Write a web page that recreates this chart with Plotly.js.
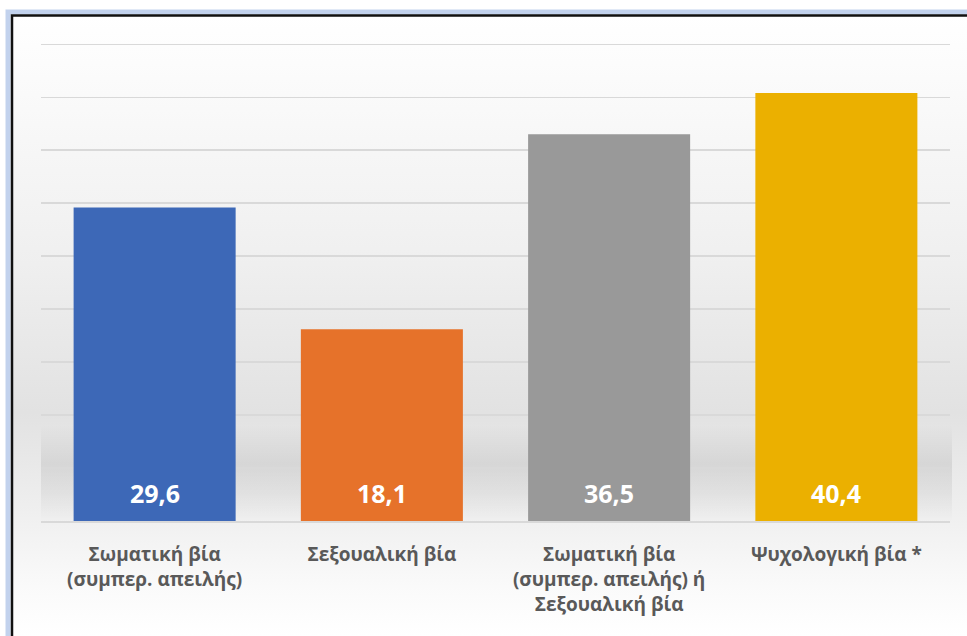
<!DOCTYPE html>
<html>
<head>
<meta charset="utf-8">
<script src="https://cdn.plot.ly/plotly-3.0.1.min.js"></script>
<style>html,body{margin:0;padding:0;background:#fff;}#chart{width:967px;height:636px;}</style>
</head>
<body>
<div id="chart"></div>
<script>
// ---- data ----
const categories = [
  "Σωματική βία<br>(συμπερ. απειλής)",
  "Σεξουαλική βία",
  "Σωματική βία<br>(συμπερ. απειλής) ή<br>Σεξουαλική βία",
  "Ψυχολογική βία *"
];
const values = [29.6, 18.1, 36.5, 40.4];
const valueLabels = ["29,6", "18,1", "36,5", "40,4"];
const barColors = ["#3d68b7", "#e6722a", "#999999", "#ebb000"];

// ---- layout geometry (pixels) ----
const W = 967, H = 636;
const M = {l: 41, r: 17, t: 39, b: 115};
const pw = W - M.l - M.r, ph = H - M.t - M.b;
const px = x => (x - M.l) / pw;
const py = y => (H - M.b - y) / ph;

const svg = `<svg xmlns="http://www.w3.org/2000/svg" width="${W}" height="${H}">
<defs>
<linearGradient id="g" x1="0" y1="0" x2="0" y2="1">
<stop offset="0" stop-color="#ffffff"/>
<stop offset="0.1" stop-color="#fbfbfb"/>
<stop offset="0.4" stop-color="#efefef"/>
<stop offset="0.64" stop-color="#e2e2e2"/>
<stop offset="0.8" stop-color="#efefef"/>
<stop offset="0.92" stop-color="#fafafa"/>
<stop offset="1" stop-color="#ffffff"/>
</linearGradient>
<linearGradient id="s" x1="0" y1="0" x2="0" y2="1">
<stop offset="0" stop-color="#000" stop-opacity="0"/>
<stop offset="0.4" stop-color="#000" stop-opacity="0.08"/>
<stop offset="0.7" stop-color="#000" stop-opacity="0.05"/>
<stop offset="1" stop-color="#000" stop-opacity="0"/>
</linearGradient>
</defs>
<rect width="${W}" height="${H}" fill="#ffffff"/>
<rect x="12" y="16" width="${W-12}" height="${H-16}" fill="url(#g)"/>
<rect x="41" y="425" width="911" height="97" fill="url(#s)"/>
</svg>`;
const bgSrc = "data:image/svg+xml;charset=utf-8," + encodeURIComponent(svg);

const trace = {
  type: "bar",
  x: categories,
  y: values,
  marker: {color: barColors, line: {width: 0}},
  hoverinfo: "skip"
};

const annotations = categories.map((c, i) => ({
  x: c, y: 0, xref: "x", yref: "y",
  text: valueLabels[i],
  showarrow: false,
  yanchor: "bottom",
  yshift: 9,
  font: {family: "Open Sans, sans-serif", size: 25, color: "#ffffff", weight: 700}
}));

const layout = {
  width: W, height: H,
  margin: M,
  paper_bgcolor: "#ffffff",
  plot_bgcolor: "rgba(0,0,0,0)",
  bargap: 0.287,
  showlegend: false,
  font: {family: "Open Sans, sans-serif"},
  xaxis: {
    type: "category",
    tickfont: {family: "Open Sans, sans-serif", size: 19, color: "#595959", weight: 700},
    showgrid: false,
    showline: true,
    linecolor: "#d9d9d9",
    linewidth: 1.5,
    ticks: "",
    ticklabelstandoff: 16,
    fixedrange: true
  },
  yaxis: {
    range: [0, 45.5],
    dtick: 5,
    showgrid: true,
    gridcolor: "#d9d9d9",
    gridwidth: 1.5,
    showticklabels: false,
    zeroline: false,
    ticks: "",
    fixedrange: true
  },
  annotations: annotations,
  images: [{
    source: bgSrc,
    xref: "paper", yref: "paper",
    x: px(0), y: py(0),
    sizex: W / pw, sizey: H / ph,
    xanchor: "left", yanchor: "top",
    sizing: "stretch",
    layer: "below"
  }],
  shapes: [
    {type: "path", xref: "paper", yref: "paper",
     path: `M ${px(8)} ${py(H+10)} L ${px(8)} ${py(12)} L ${px(W+10)} ${py(12)}`,
     line: {color: "rgba(120,155,215,0.45)", width: 5}},
    {type: "path", xref: "paper", yref: "paper",
     path: `M ${px(12)} ${py(H+10)} L ${px(12)} ${py(15.5)} L ${px(W+10)} ${py(15.5)}`,
     line: {color: "#111111", width: 2.5}}
  ]
};

Plotly.newPlot("chart", [trace], layout, {displayModeBar: false, staticPlot: true});
</script>
</body>
</html>
